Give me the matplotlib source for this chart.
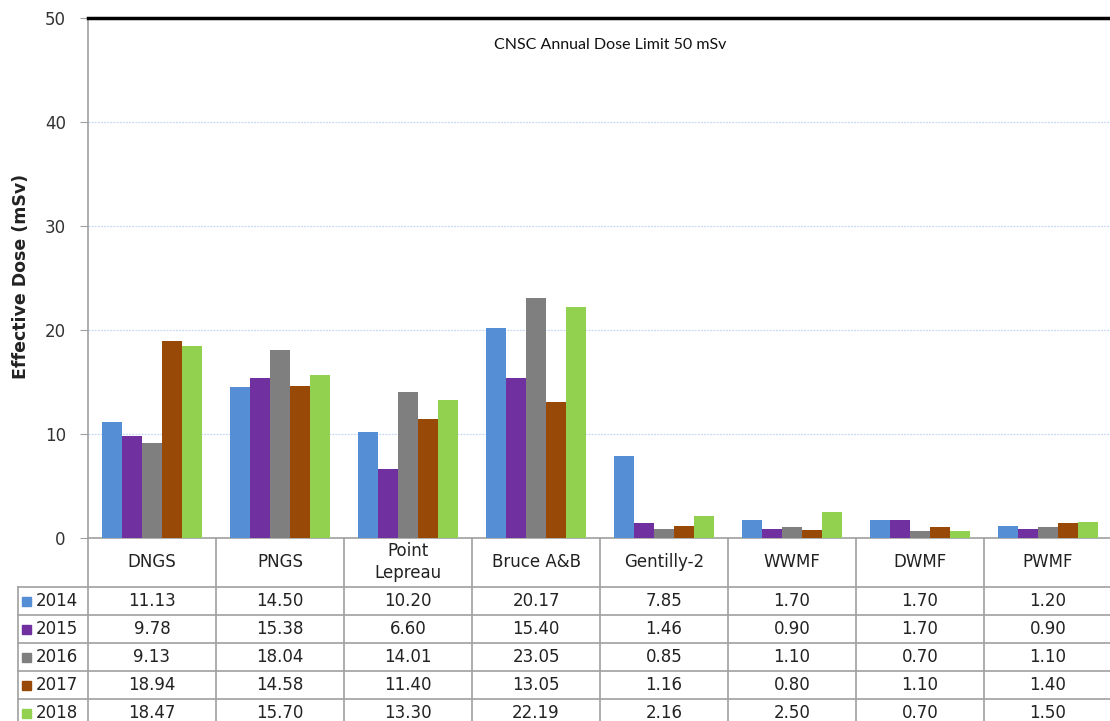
import numpy as np
import matplotlib.pyplot as plt
from matplotlib.lines import Line2D
from matplotlib.patches import Rectangle
from matplotlib.transforms import blended_transform_factory

# effective dose per site and year (mSv)
sites = ['DNGS', 'PNGS', 'Point\nLepreau', 'Bruce A&B', 'Gentilly-2', 'WWMF', 'DWMF', 'PWMF']
years = ['2014', '2015', '2016', '2017', '2018']
dose_2014 = [11.13, 14.50, 10.20, 20.17, 7.85, 1.70, 1.70, 1.20]
dose_2015 = [9.78, 15.38, 6.60, 15.40, 1.46, 0.90, 1.70, 0.90]
dose_2016 = [9.13, 18.04, 14.01, 23.05, 0.85, 1.10, 0.70, 1.10]
dose_2017 = [18.94, 14.58, 11.40, 13.05, 1.16, 0.80, 1.10, 1.40]
dose_2018 = [18.47, 15.70, 13.30, 22.19, 2.16, 2.50, 0.70, 1.50]
limit = 50

series = [dose_2014, dose_2015, dose_2016, dose_2017, dose_2018]
colours = ['#558ED5', '#7030A0', '#7F7F7F', '#984807', '#92D050']

W, H = 1110, 721
fig = plt.figure(figsize=(W / 100, H / 100), dpi=100)
fig.patch.set_facecolor('white')

left, right, top, base = 88, 1112, 18, 538
ax = fig.add_axes([left / W, 1 - base / H, (right - left) / W, (base - top) / H])

x = np.arange(len(sites))
bw = 0.155
for k, vals in enumerate(series):
    ax.bar(x + (k - 2) * bw, vals, bw, color=colours[k], zorder=3)

ax.set_xlim(-0.5, len(sites) - 0.5)
ax.set_ylim(0, limit)
ax.set_yticks([0, 10, 20, 30, 40, 50])
ax.set_xticks([])
for y in [10, 20, 30, 40]:
    ax.axhline(y, color='#C6D9F1', lw=0.9, ls=(0, (1.5, 1)), zorder=1)
ax.axhline(limit, color='black', lw=2.5, zorder=4, clip_on=False)
ax.text(3.58, 47.4, 'CNSC Annual Dose Limit 50 mSv', family='Lato', fontsize=11.5,
        color='#111111', ha='center', va='center')

for s in ['top', 'right']:
    ax.spines[s].set_visible(False)
for s in ['left', 'bottom']:
    ax.spines[s].set_color('#A0A0A0')
    ax.spines[s].set_linewidth(1.2)
ax.tick_params(axis='y', direction='out', length=6, color='#A0A0A0',
               labelsize=12, labelcolor='#333333', pad=10)

fig.text(21 / W, 1 - 276 / H, 'Effective Dose (mSv)', rotation=90, ha='center',
         va='center', fontsize=12.5, fontweight='bold', color='#222222')

# data table below the plot
def fy(py):
    return 1 - py / H

tr = blended_transform_factory(ax.transData, fig.transFigure)
grid_c = '#A0A0A0'
row_edges = [587, 615, 643, 671, 699, 727]
bottom_px = 730

for ry in row_edges:
    fig.add_artist(Line2D([18 / W, right / W], [fy(ry), fy(ry)], color=grid_c, lw=1.2))
fig.add_artist(Line2D([18 / W, 18 / W], [fy(587), fy(bottom_px)], color=grid_c, lw=1.2))
fig.add_artist(Line2D([left / W, left / W], [fy(base), fy(bottom_px)], color=grid_c, lw=1.2))
for i in range(1, len(sites)):
    fig.add_artist(Line2D([i - 0.5, i - 0.5], [fy(base), fy(bottom_px)],
                          transform=tr, color=grid_c, lw=1.2))

for i, name in enumerate(sites):
    fig.text(i, fy(562), name, transform=tr, ha='center', va='center',
             fontsize=12, color='#222222', linespacing=1.25)

for k, vals in enumerate(series):
    cy = (row_edges[k] + row_edges[k + 1]) / 2
    fig.add_artist(Rectangle((22 / W, fy(cy + 4.5)), 9 / W, 9 / H, color=colours[k]))
    fig.text(36 / W, fy(cy), years[k], ha='left', va='center', fontsize=12, color='#222222')
    for i, v in enumerate(vals):
        fig.text(i, fy(cy), f'{v:.2f}', transform=tr, ha='center', va='center',
                 fontsize=12, color='#222222')

fig.savefig('out.png', dpi=100)
